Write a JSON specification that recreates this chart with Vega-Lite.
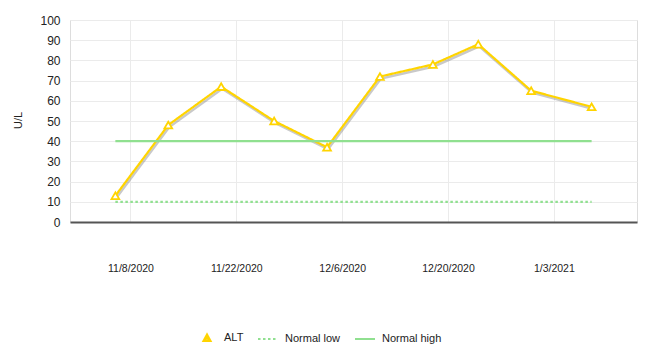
{
  "$schema": "https://vega.github.io/schema/vega-lite/v6.json",
  "width": 567,
  "height": 202,
  "autosize": {"type": "none"},
  "padding": {"left": 70, "top": 20, "right": 26, "bottom": 141},
  "background": "white",
  "data": {
    "values": [
      {"date": "2020-11-06T00:00:00", "series": "ALT", "value": 13},
      {"date": "2020-11-13T00:00:00", "series": "ALT", "value": 48},
      {"date": "2020-11-20T00:00:00", "series": "ALT", "value": 67},
      {"date": "2020-11-27T00:00:00", "series": "ALT", "value": 50},
      {"date": "2020-12-04T00:00:00", "series": "ALT", "value": 37},
      {"date": "2020-12-11T00:00:00", "series": "ALT", "value": 72},
      {"date": "2020-12-18T00:00:00", "series": "ALT", "value": 78},
      {"date": "2020-12-24T00:00:00", "series": "ALT", "value": 88},
      {"date": "2020-12-31T00:00:00", "series": "ALT", "value": 65},
      {"date": "2021-01-08T00:00:00", "series": "ALT", "value": 57},
      {"date": "2020-11-06T00:00:00", "series": "Normal low", "value": 10},
      {"date": "2020-11-13T00:00:00", "series": "Normal low", "value": 10},
      {"date": "2020-11-20T00:00:00", "series": "Normal low", "value": 10},
      {"date": "2020-11-27T00:00:00", "series": "Normal low", "value": 10},
      {"date": "2020-12-04T00:00:00", "series": "Normal low", "value": 10},
      {"date": "2020-12-11T00:00:00", "series": "Normal low", "value": 10},
      {"date": "2020-12-18T00:00:00", "series": "Normal low", "value": 10},
      {"date": "2020-12-24T00:00:00", "series": "Normal low", "value": 10},
      {"date": "2020-12-31T00:00:00", "series": "Normal low", "value": 10},
      {"date": "2021-01-08T00:00:00", "series": "Normal low", "value": 10},
      {"date": "2020-11-06T00:00:00", "series": "Normal high", "value": 40},
      {"date": "2020-11-13T00:00:00", "series": "Normal high", "value": 40},
      {"date": "2020-11-20T00:00:00", "series": "Normal high", "value": 40},
      {"date": "2020-11-27T00:00:00", "series": "Normal high", "value": 40},
      {"date": "2020-12-04T00:00:00", "series": "Normal high", "value": 40},
      {"date": "2020-12-11T00:00:00", "series": "Normal high", "value": 40},
      {"date": "2020-12-18T00:00:00", "series": "Normal high", "value": 40},
      {"date": "2020-12-24T00:00:00", "series": "Normal high", "value": 40},
      {"date": "2020-12-31T00:00:00", "series": "Normal high", "value": 40},
      {"date": "2021-01-08T00:00:00", "series": "Normal high", "value": 40}
    ]
  },
  "encoding": {
    "x": {
      "field": "date",
      "type": "temporal",
      "scale": {
        "domain": [
          {"year": 2020, "month": 10, "date": 31},
          {"year": 2021, "month": 1, "date": 14}
        ]
      },
      "axis": {
        "title": null,
        "values": [
          {"year": 2020, "month": 11, "date": 8},
          {"year": 2020, "month": 11, "date": 22},
          {"year": 2020, "month": 12, "date": 6},
          {"year": 2020, "month": 12, "date": 20},
          {"year": 2021, "month": 1, "date": 3}
        ],
        "format": "%-m/%-d/%Y",
        "ticks": false,
        "labelPadding": 41,
        "labelFontSize": 10.5,
        "labelColor": "#222222",
        "labelFont": "Liberation Sans",
        "domainColor": "#555555",
        "domainWidth": 2,
        "grid": true,
        "gridColor": "#ebebeb",
        "labelFlush": false
      }
    },
    "y": {
      "field": "value",
      "type": "quantitative",
      "scale": {"domain": [0, 100], "nice": false},
      "axis": {
        "title": "U/L",
        "values": [0, 10, 20, 30, 40, 50, 60, 70, 80, 90, 100],
        "ticks": false,
        "domain": false,
        "labelPadding": 10,
        "labelFontSize": 12,
        "labelColor": "#222222",
        "labelFont": "Liberation Sans",
        "titleFont": "Liberation Sans",
        "titleFontSize": 11,
        "titleFontWeight": "normal",
        "titleColor": "#222222",
        "titleX": -52,
        "titleY": 100,
        "titleAngle": -90,
        "titleAlign": "center",
        "titleBaseline": "middle",
        "grid": true,
        "gridColor": "#ebebeb"
      }
    }
  },
  "layer": [
    {
      "transform": [{"filter": "datum.series === 'ALT'"}],
      "mark": {"type": "line", "color": "#888888", "opacity": 0.45, "strokeWidth": 2.5, "yOffset": 2, "xOffset": 1},
      "encoding": {}
    },
    {
      "mark": {"type": "line", "strokeWidth": 2.2},
      "encoding": {
        "color": {
          "field": "series",
          "type": "nominal",
          "scale": {"domain": ["ALT", "Normal low", "Normal high"], "range": ["#FFD400", "#90E090", "#90E090"]},
          "legend": {
            "title": null,
            "orient": "none",
            "legendX": 126,
            "legendY": 307,
            "direction": "horizontal",
            "symbolSize": 400,
            "symbolStrokeWidth": 2,
            "labelOffset": 6,
            "columnPadding": 10,
            "padding": 0,
            "labelFont": "Liberation Sans",
            "labelFontSize": 11,
            "labelColor": "#222222",
            "encode": {
              "symbols": {
                "update": {
                  "fill": {"signal": "datum.value === 'ALT' ? '#FFD400' : 'transparent'"},
                  "fillOpacity": {"value": 1},
                  "stroke": {"signal": "datum.value === 'ALT' ? '#FFD400' : '#90E090'"},
                  "strokeWidth": {"value": 2}
                }
              }
            }
          }
        },
        "strokeDash": {
          "field": "series",
          "type": "nominal",
          "scale": {"domain": ["ALT", "Normal low", "Normal high"], "range": [[1, 0], [2.5, 2.5], [1, 0]]},
          "legend": null
        },
        "shape": {
          "field": "series",
          "type": "nominal",
          "scale": {"domain": ["ALT", "Normal low", "Normal high"], "range": ["M0,-0.36L0.36,0.3L-0.36,0.3ZM0,-0.12L-0.2,0.24L0.2,0.24Z", "stroke", "stroke"]},
          "legend": null
        }
      }
    },
    {
      "transform": [{"filter": "datum.series === 'ALT'"}],
      "mark": {"type": "point", "shape": "triangle-up", "size": 60, "filled": true, "fill": "#ffffff", "stroke": "#FFD400", "strokeWidth": 1.8, "opacity": 1},
      "encoding": {}
    }
  ]
}
